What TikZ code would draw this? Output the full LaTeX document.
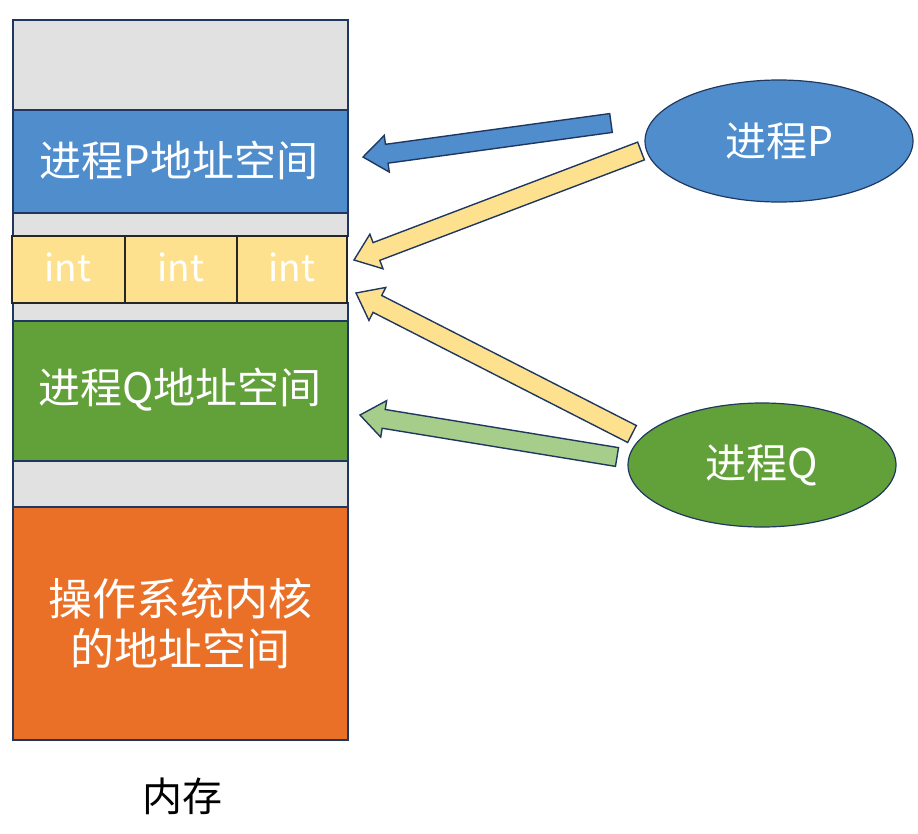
\documentclass[tikz,border=0pt]{standalone}
\usepackage{fontspec}
\setmainfont{Noto Sans CJK SC}
\usetikzlibrary{calc,shapes.geometric}
\definecolor{memgray}{RGB}{226,225,226}
\definecolor{pblue}{RGB}{80,141,205}
\definecolor{qgreen}{RGB}{98,160,58}
\definecolor{korange}{RGB}{234,112,40}
\definecolor{intyellow}{RGB}{254,225,143}
\definecolor{lgreen}{RGB}{166,206,138}
\definecolor{edge}{RGB}{32,56,96}
\tikzset{
  membox/.style={draw=edge, line width=1.2pt},
  celltext/.style={text=white, font=\fontsize{42}{50}\selectfont, align=center},
  inttext/.style={text=white, font=\fontsize{37}{44}\selectfont},
  proc/.style={ellipse, draw=edge, line width=1.2pt, minimum width=268pt, minimum height=122pt, inner sep=0pt, text=white, font=\fontsize{41}{48}\selectfont},
  arrowline/.style={draw=edge, line width=1.4pt, line join=miter},
}
\newcommand\blockarrow[3]{%
  \coordinate (ba-base) at ($(#2)!24pt!(#1)$);
  \filldraw[arrowline, fill=#3] (#2)
    -- ($(ba-base)!18.5pt!90:(#1)$)
    -- ($(ba-base)!9.5pt!90:(#1)$)
    -- ($(#1)!9.5pt!-90:(ba-base)$)
    -- ($(#1)!9.5pt!90:(ba-base)$)
    -- ($(ba-base)!9.5pt!-90:(#1)$)
    -- ($(ba-base)!18.5pt!-90:(#1)$)
    -- cycle;}
\begin{document}
\begin{tikzpicture}[x=1pt,y=-1pt]
\useasboundingbox (0,0) rectangle (918,833);
% memory column
\path[membox, fill=memgray] (13,20) rectangle (348,110);
\path[membox, fill=pblue] (13,110) rectangle (348,213);
\path[membox, fill=memgray] (13,213) rectangle (348,236);
\path[membox, fill=memgray] (13,303) rectangle (348,321);
\path[membox, fill=qgreen] (13,321) rectangle (348,461);
\path[membox, fill=memgray] (13,461) rectangle (348,507);
\path[membox, fill=korange] (13,507) rectangle (348,740);
\path[draw=black!85, line width=1.2pt, fill=intyellow] (12,236) rectangle (125,303);
\path[draw=black!85, line width=1.2pt, fill=intyellow] (125,236) rectangle (237,303);
\path[draw=black!85, line width=1.2pt, fill=intyellow] (237,236) rectangle (347,303);
\node[celltext] (ptext) at (179,160) {进程P地址空间};
\node[inttext] (int1) at (68,267) {int};
\node[inttext] (int2) at (181,267) {int};
\node[inttext] (int3) at (292,267) {int};
\node[celltext] (qtext) at (180,390) {进程Q地址空间};
\node[celltext, font=\fontsize{44}{50}\selectfont] (ktext) at (180,624) {操作系统内核\\的地址空间};
\node[font=\fontsize{40}{46}\selectfont, text=black] (mem) at (182,796) {内存};
% arrows
\coordinate (bt) at (611,123); \coordinate (bh) at (363,157);
\coordinate (y1t) at (641,151); \coordinate (y1h) at (354,260);
\coordinate (y2t) at (632,434); \coordinate (y2h) at (356,293);
\coordinate (gt) at (617,457); \coordinate (gh) at (360,415);
\blockarrow{bt}{bh}{pblue}
\blockarrow{y1t}{y1h}{intyellow}
\blockarrow{y2t}{y2h}{intyellow}
\blockarrow{gt}{gh}{lgreen}
% processes
\node[proc, fill=pblue] (P) at (779,141) {进程P};
\node[proc, fill=qgreen, minimum height=124pt] (Q) at (762,465) {进程Q};
\end{tikzpicture}
\end{document}
